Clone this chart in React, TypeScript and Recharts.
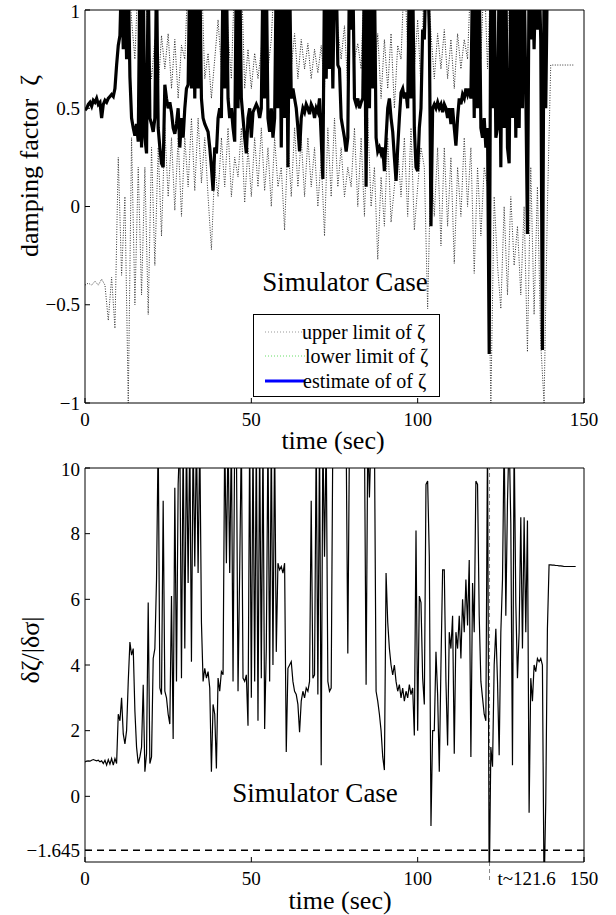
import { LineChart, Line, XAxis, YAxis, ReferenceLine, Legend, Customized } from 'recharts'

// estimate of zeta, sampled every 0.5 s from t = 0 (values above 1 run off the top)
const zetaEstimate = [
  0.49, 0.5, 0.52, 0.53, 0.51, 0.54, 0.53, 0.55, 0.52, 0.53, 0.45, 0.52, 0.54, 0.53, 0.55, 0.56, 0.57, 0.56, 0.6, 0.72,
  0.82, 0.87, 1.2, 0.8, 1.2, 0.75, 1.2, 0.66, 0.45, 0.4, 0.36, 0.42, 0.33, 1.2, 0.3, 1.2, 0.35, 0.27, 1.2, 0.45,
  0.42, 0.38, 0.45, 1.2, 0.4, 0.3, 0.22, 0.2, 0.62, 0.55, 0.5, 0.53, 0.48, 0.4, 0.37, 0.42, 0.5, 0.3, 0.45, 0.35,
  0.5, 0.6, 0.62, 1.2, 0.6, 1.2, 0.55, 1.2, 0.6, 1.2, 0.55, 0.45, 0.42, 0.4, 0.38, 0.3, 0.2, 0.08, 0.3, 0.27,
  0.45, 0.5, 0.45, 1.2, 0.6, 1.2, 0.55, 0.45, 0.5, 0.4, 0.33, 1.2, 0.5, 1.2, 0.55, 0.45, 0.35, 0.27, 0.45, 0.5,
  0.35, 0.48, 0.5, 0.52, 0.5, 0.45, 0.5, 1.2, 0.55, 1.2, 0.45, 0.38, 0.5, 0.35, 0.45, 1.2, 0.5, 1.2, 0.3, 1.2,
  0.45, 1.2, 0.2, 1.2, 0.55, 0.6, 0.55, 0.5, 0.4, 0.28, 0.45, 0.5, 0.48, 0.52, 0.5, 0.47, 0.52, 0.5, 0.45, 0.5,
  0.48, 0.55, 0.35, 0.14, 1.2, 0.65, 1.2, 0.7, 1.2, 0.6, 1.2, 1.2, 0.72, 0.7, 0.45, 0.4, 0.35, 0.28, 0.35, 1.2,
  0.9, 1.2, 0.55, 0.52, 0.55, 0.5, 0.53, 0.55, 1.2, 0.1, 1.2, 0.5, 1.2, 0.6, 1.2, 0.35, 0.28, 0.3, 0.27, 0.3,
  0.18, 0.35, 0.5, 0.55, 0.45, 0.38, 0.25, 0.13, 0.3, 0.45, 0.58, 0.6, 0.55, 0.58, 0.5, 1.2, 0.55, 1.2, 0.4, 0.2,
  0.18, 0.4, 0.5, 0.9, 0.85, 1.2, 1.2, 0.9, -0.1, 0.5, 0.52, 0.5, 0.53, 0.5, 0.52, 0.48, 0.52, 0.5, 0.45, 0.5,
  0.42, 0.5, 0.4, 0.31, 0.45, 0.55, 0.52, 0.57, 0.55, 0.6, 0.57, 0.6, 0.55, 1.2, 0.45, 1.2, 0.5, 1.2, 0.4, 0.35,
  0.45, 0.3, 0.4, -0.75, 1.2, 0.5, 1.2, 0.35, 0.4, 1.2, 0.2, 1.2, 0.4, 1.2, 0.3, 0.22, 1.2, 0.45, 1.2, 0.35,
  1.2, 0.4, 1.2, 0.5, 1.2, 0.6, -0.14, 1.2, 0.85, 1.2, 0.8, 1.2, 0.9, 1.2, 0.85, -0.73, 1.2, 0.5, 1.2, 1.2,
  1.2, 1.2, 1.2, 1.2, 1.2, 1.2, 1.2, 1.2, 1.2, 1.2, 1.2, 1.2, 1.2, 1.2, 1.2, 1.2,
]

// upper and lower limits of zeta, one value per second
const zetaUpper = [
  1.2, 1.2, 1.2, 1.2, 1.2, 1.2, 1.2, 1.2, 1.2, 1.2,
  1.2, 1.2, 1.2, 1.2, 0.95, 0.75, 1.2, 0.7, 1.2, 0.85,
  0.65, 0.85, 0.6, 0.87, 0.7, 0.88, 0.6, 0.85, 0.55, 0.82,
  0.75, 1.2, 0.8, 1.2, 0.85, 1.2, 0.65, 0.78, 0.55, 0.75,
  0.95, 0.7, 1.2, 0.88, 0.65, 1.2, 0.7, 1.2, 0.6, 0.8,
  0.6, 0.78, 0.65, 0.8, 1.2, 0.7, 0.85, 1.2, 0.75, 1.2,
  0.8, 1.2, 0.7, 0.88, 0.65, 0.85, 0.7, 0.83, 0.65, 0.8,
  0.68, 0.82, 0.6, 1.2, 0.8, 1.2, 0.9, 0.75, 0.92, 0.6,
  1.2, 0.75, 0.83, 0.7, 1.2, 0.75, 1.2, 0.65, 0.88, 0.55,
  0.85, 0.6, 0.88, 0.5, 0.82, 0.75, 1.2, 0.8, 1.2, 0.7,
  0.95, 0.6, 1.2, 1.2, 0.88, 0.65, 0.88, 0.7, 0.9, 0.65,
  0.85, 0.6, 0.88, 0.7, 0.85, 0.75, 1.2, 0.9, 1.2, 0.75,
  1.2, 0.7, 1.2, 0.8, 0.6, 0.85, 0.55, 1.2, 0.65, 1.2,
  0.8, 1.2, 0.85, 1.2, 0.9, 1.2, 0.95, 1.2, 1.2, 1.2,
  1.2, 1.2, 1.2, 1.2, 1.2, 1.2, 1.2, 1.2,
]
const zetaLower = [
  -0.4, -0.39, -0.4, -0.38, -0.4, -0.37, -0.4, -0.58, -0.36, -0.62,
  0.25, -0.35, 0.05, -1.0, 0.35, -0.5, 0.2, -0.45, 0.2, -0.55,
  0.3, -0.3, 0.3, -0.15, 0.4, 0.05, 0.35, -0.02, 0.35, -0.05,
  0.35, 0.1, 0.45, 0.08, 0.45, 0.12, 0.35, 0.05, -0.22, 0.2,
  0.05, 0.35, 0.1, 0.4, 0.05, 0.25, 0.15, 0.4, 0.02, 0.3,
  0.05, 0.35, 0.1, 0.4, 0.08, 0.3, 0.0, 0.35, 0.1, 0.2,
  -0.12, 0.35, 0.05, 0.4, 0.1, 0.35, 0.05, 0.35, 0.1, 0.3,
  0.0, 0.25, -0.15, 0.4, 0.05, 0.45, 0.1, 0.3, 0.05, 0.2,
  0.1, 0.4, 0.0, 0.35, -0.05, 0.45, 0.0, 0.2, -0.27, 0.15,
  -0.1, 0.35, -0.08, 0.1, 0.3, 0.05, 0.35, -0.05, 0.4, -0.12,
  0.1, 0.3, 0.2, -0.52, 0.25, -0.05, 0.3, -0.2, 0.3, -0.1,
  0.25, -0.29, 0.2, -0.05, 0.35, 0.0, 0.3, -0.34, 0.2, -0.15,
  0.2, 0.1, -1.0, 0.05, -0.3, -0.52, 0.0, -0.45, 0.05, -0.3,
  -0.1, -0.45, 0.0, -0.74, 0.2, -0.55, 0.1, -0.7, -1.0, 0.0,
  0.72, 0.72, 0.72, 0.72, 0.72, 0.72, 0.72, 0.72,
]

// d zeta / |d sigma|, sampled every 0.5 s (11 = off the top, -3 = off the bottom)
const sensitivity = [
  1.05, 1.07, 1.08, 1.07, 1.1, 1.12, 1.1, 1.08, 1.1, 1.05, 1.08, 1.0, 1.1, 0.95, 1.12, 0.98, 1.15, 0.95, 1.15, 1.0,
  2.5, 2.3, 3.0, 1.9, 1.6, 2.0, 3.5, 4.7, 4.3, 4.5, 2.6, 1.5, 1.0, 1.2, 1.5, 3.4, 0.75, 1.3, 5.9, 1.0,
  1.2, 4.2, 4.5, 6.6, 11, 3.3, 3.1, 9.0, 3.2, 3.0, 2.5, 2.2, 6.1, 1.75, 9.4, 3.5, 9.5, 11, 3.6, 11,
  4.5, 11, 6.5, 11, 4.1, 11, 7.0, 11, 6.8, 11, 5.3, 3.5, 3.9, 3.6, 3.8, 3.3, 0.75, 2.8, 2.5, 0.85,
  3.6, 3.2, 3.8, 3.7, 11, 7.1, 11, 6.8, 11, 3.5, 11, 11, 3.2, 6.9, 11, 3.6, 3.5, 3.7, 2.15, 11,
  3.0, 11, 3.5, 11, 2.3, 11, 3.6, 11, 2.05, 4.5, 11, 3.5, 11, 4.0, 11, 4.4, 7.1, 6.9, 7.0, 6.8,
  7.1, 1.35, 3.9, 4.0, 4.1, 3.5, 3.2, 3.1, 2.8, 1.95, 2.9, 3.2, 3.0, 3.3, 3.2, 3.5, 9.0, 3.6, 3.7, 11,
  3.1, 11, 0.95, 11, 7.3, 11, 3.5, 3.2, 3.3, 11, 11, 11, 11, 11, 11, 11, 11, 11, 4.35, 11,
  11, 11, 11, 11, 11, 11, 11, 11, 11, 3.4, 11, 9.1, 11, 11, 11, 3.2, 2.9, 2.5, 2.0, 1.2,
  0.8, 6.8, 5.3, 4.5, 4.0, 3.7, 4.0, 3.5, 3.2, 3.4, 3.0, 3.3, 2.9, 3.2, 3.0, 3.4, 3.1, 3.3, 1.85, 8.1,
  2.0, 6.1, 5.9, 3.6, 2.8, 9.5, 9.6, 7.3, -0.9, 2.0, 2.0, 4.4, 3.1, 0.75, 4.0, 6.9, 6.9, 3.5, 1.55, 5.0,
  4.5, 5.5, 1.3, 5.0, 4.5, 5.5, 4.2, 6.0, 5.0, 6.6, 5.2, 7.2, 1.2, 6.5, 5.0, 9.6, 9.5, 5.5, 3.5, 3.0,
  2.5, 2.3, 11, -3, 1.5, 0.9, 4.0, 5.1, 3.5, 1.25, 5.0, 6.6, 11, 5.5, 9.0, 11, 8.3, 0.95, 11, 5.9,
  3.6, 5.0, 8.5, 4.5, 8.5, 5.0, 8.4, -0.5, 3.6, 2.9, 4.0, 3.8, 4.2, 4.1, 4.2, 4.0, -3, -0.2, 5.1, 7.05,
  7.05, 7.04, 7.04, 7.03, 7.03, 7.02, 7.02, 7.01, 7.0, 7.0, 7.0, 7.0, 7.0, 7.0, 7.0, 7.0,
]

const timeTicks = [0, 50, 100, 150]
const zetaTicks = [-1, -0.5, 0, 0.5, 1]
const sensTicks = [-1.645, 0, 2, 4, 6, 8, 10]
const threshold = -1.645
const eventTime = 121.6

const FINE_STEP = 0.5
const COARSE_STEP = 1

const estimateData = zetaEstimate.map((v, i) => ({ t: i * FINE_STEP, v }))
const upperData = zetaUpper.map((v, i) => ({ t: i * COARSE_STEP, v }))
const lowerData = zetaLower.map((v, i) => ({ t: i * COARSE_STEP, v }))
const sensData = sensitivity.map((v, i) => ({ t: i * FINE_STEP, v }))

const FONT = 'Liberation Serif, Times New Roman, serif'
const tickStyle = { fontSize: 19, fill: '#000', fontFamily: FONT }
const minus = (v: number) => String(v).replace('-', '\u2212')

const legendRows = [
  { label: 'upper limit of \u03b6', y: 18, color: '#999', width: 1, dash: '1 2', textX: 49 },
  { label: 'lower limit of \u03b6', y: 42, color: '#6d6', width: 1, dash: '1 2', textX: 52 },
  { label: 'estimate of of \u03b6', y: 67, color: '#0000ff', width: 3, dash: undefined, textX: 50 },
]

function LimitsLegend() {
  return (
    <svg width={187} height={83} style={{ display: 'block' }}>
      <rect x={0.5} y={0.5} width={186} height={82} fill="#fff" stroke="#000" />
      {legendRows.map((r) => (
        <g key={r.label}>
          <line x1={12} x2={52} y1={r.y} y2={r.y} stroke={r.color} strokeWidth={r.width} strokeDasharray={r.dash} />
          <text x={r.textX} y={r.y} dominantBaseline="central" fontSize={20} fontFamily={FONT} fill="#000">
            {r.label}
          </text>
        </g>
      ))}
    </svg>
  )
}

function PanelText({ title, titleX, titleY, yLabel, yLabelX, yLabelY, xLabelX, xLabelY }: any) {
  return (
    <g fontFamily={FONT} fill="#000">
      <text x={titleX} y={titleY} textAnchor="middle" fontSize={27}>{title}</text>
      <text x={xLabelX} y={xLabelY} textAnchor="middle" fontSize={26}>time (sec)</text>
      <text
        x={yLabelX}
        y={yLabelY}
        textAnchor="middle"
        dominantBaseline="central"
        fontSize={26}
        style={{ whiteSpace: 'pre' }}
        transform={`rotate(-90 ${yLabelX} ${yLabelY})`}
      >
        {yLabel}
      </text>
    </g>
  )
}

function EventMark({ viewBox }: any) {
  if (!viewBox) return null
  const { x, y, height } = viewBox
  const bottom = y + height
  return (
    <g>
      <line x1={x} x2={x} y1={bottom} y2={bottom + 20} stroke="#888" strokeDasharray="4 3" />
      <text x={x + 8} y={bottom + 23} fontSize={19} fontFamily={FONT} fill="#000">t~121.6</text>
    </g>
  )
}

function frameAxes(yTicks: number[], yDomain: [number, number], bottomHeight: number) {
  return [
    <XAxis
      key="xb"
      dataKey="t"
      type="number"
      domain={[0, 150]}
      ticks={timeTicks}
      allowDataOverflow
      height={bottomHeight}
      tickSize={-5}
      tickMargin={14.5}
      tick={tickStyle}
      axisLine={{ stroke: '#000' }}
      tickLine={{ stroke: '#000' }}
    />,
    <XAxis
      key="xt"
      xAxisId="top"
      orientation="top"
      dataKey="t"
      type="number"
      domain={[0, 150]}
      ticks={timeTicks}
      height={10}
      tickSize={-5}
      tick={false}
      axisLine={{ stroke: '#000' }}
      tickLine={{ stroke: '#000' }}
    />,
    <YAxis
      key="yl"
      type="number"
      domain={yDomain}
      ticks={yTicks}
      allowDataOverflow
      width={85}
      tickSize={-5}
      tickMargin={10}
      tick={tickStyle}
      tickFormatter={minus}
      axisLine={{ stroke: '#000' }}
      tickLine={{ stroke: '#000' }}
    />,
    <YAxis
      key="yr"
      yAxisId="right"
      orientation="right"
      type="number"
      domain={yDomain}
      ticks={yTicks}
      width={32}
      tickSize={-5}
      tick={false}
      axisLine={{ stroke: '#000' }}
      tickLine={{ stroke: '#000' }}
    />,
  ]
}

export default function App() {
  return (
    <div style={{ position: 'absolute', left: 0, top: 0, width: 616, height: 915, background: '#fff', fontFamily: FONT }}>
      <div style={{ position: 'absolute', left: 0, top: 0 }}>
        <LineChart width={616} height={460} margin={{ top: 0, right: 0, bottom: 0, left: 0 }}>
          {frameAxes(zetaTicks, [-1, 1], 57)}
          <Line data={upperData} dataKey="v" name="upper limit of ζ" stroke="#222" strokeWidth={1} strokeDasharray="1 1.5" dot={false} isAnimationActive={false} />
          <Line data={lowerData} dataKey="v" name="lower limit of ζ" stroke="#333" strokeWidth={1} strokeDasharray="1 1.5" dot={false} isAnimationActive={false} />
          <Line data={estimateData} dataKey="v" name="estimate of of ζ" stroke="#000" strokeWidth={3.2} dot={false} isAnimationActive={false} />
          <Legend
            layout="horizontal"
            verticalAlign="middle"
            align="center"
            content={() => <LimitsLegend />}
            wrapperStyle={{ left: 253, top: 314, width: 187, height: 83 }}
          />
          <Customized
            component={
              <PanelText
                title="Simulator Case"
                titleX={345}
                titleY={291}
                yLabel={'damping factor \u00a0\u03b6'}
                yLabelX={29}
                yLabelY={166}
                xLabelX={333}
                xLabelY={449}
              />
            }
          />
        </LineChart>
      </div>
      <div style={{ position: 'absolute', left: 0, top: 458 }}>
        <LineChart width={616} height={457} margin={{ top: 0, right: 0, bottom: 0, left: 0 }}>
          {frameAxes(sensTicks, [-2, 10], 53)}
          <ReferenceLine y={threshold} stroke="#000" strokeWidth={1.5} strokeDasharray="7 5" />
          <ReferenceLine x={eventTime} stroke="#888" strokeDasharray="4 3" label={<EventMark />} />
          <Line data={sensData} dataKey="v" stroke="#000" strokeWidth={1.2} dot={false} isAnimationActive={false} />
          <Customized
            component={
              <PanelText
                title="Simulator Case"
                titleX={315}
                titleY={344}
                yLabel={'\u03b4\u03b6/|\u03b4\u03c3|'}
                yLabelX={30}
                yLabelY={192}
                xLabelX={340}
                xLabelY={451}
              />
            }
          />
        </LineChart>
      </div>
    </div>
  )
}
